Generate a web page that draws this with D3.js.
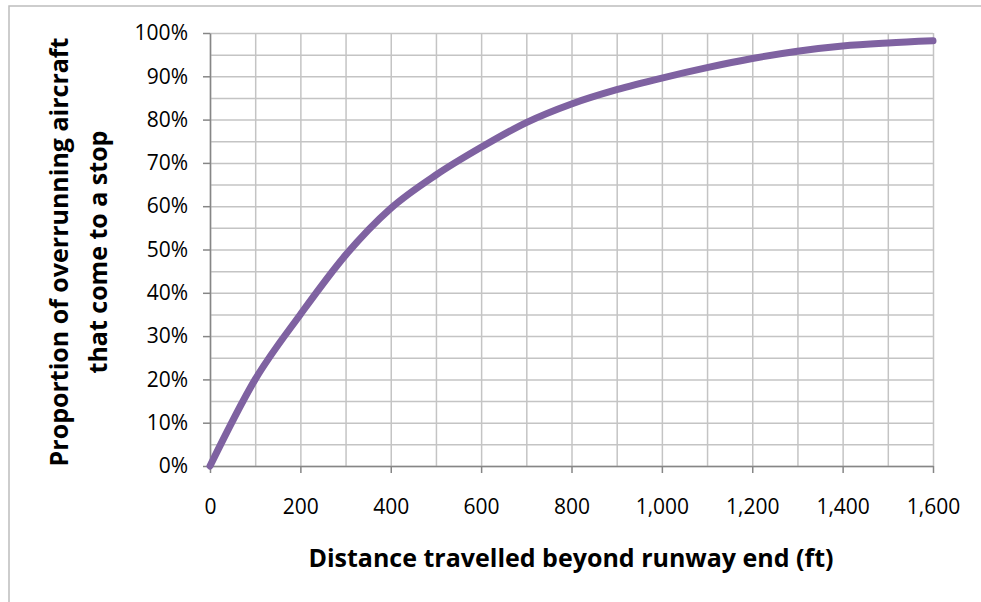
<!DOCTYPE html>
<html>
<head>
<meta charset="utf-8">
<script src="https://cdn.jsdelivr.net/npm/d3@7"></script>
<style>
  body { margin: 0; background: #fff; }
  text { font-family: "Open Sans", Lato, sans-serif; fill: #000; }
</style>
</head>
<body>
<div id="my_dataviz"></div>
<script>
// distance beyond runway end (ft) and share of overruns stopped within it
const distances = [0, 100, 200, 300, 400, 500, 600, 700, 800, 900, 1000, 1100, 1200, 1300, 1400, 1500, 1600];
const proportions = [0, 0.20, 0.35, 0.487, 0.595, 0.672, 0.736, 0.793, 0.836, 0.869, 0.896, 0.920, 0.941, 0.958, 0.970, 0.977, 0.982];
const xTicks = [0, 200, 400, 600, 800, 1000, 1200, 1400, 1600];
const yTicks = [0, 0.1, 0.2, 0.3, 0.4, 0.5, 0.6, 0.7, 0.8, 0.9, 1];
const xTitle = "Distance travelled beyond runway end (ft)";
const yTitle = ["Proportion of overrunning aircraft", "that come to a stop"];

const W = 981, H = 602;
const margin = {top: 33, right: 48, bottom: 136, left: 210},
  width = W - margin.left - margin.right,
  height = H - margin.top - margin.bottom;

const root = d3.select("#my_dataviz")
  .append("svg")
    .attr("width", W)
    .attr("height", H);

// outer chart frame
root.append("rect")
  .attr("x", 9).attr("y", 6)
  .attr("width", W + 20).attr("height", H + 20)
  .attr("fill", "none")
  .attr("stroke", "#bdbdbd")
  .attr("stroke-width", 1.5);

const svg = root.append("g")
  .attr("transform", "translate(" + margin.left + "," + margin.top + ")");

const x = d3.scaleLinear().domain([0, 1600]).range([0, width]);
const y = d3.scaleLinear().domain([0, 1]).range([height, 0]);

// gridlines
svg.append("g")
  .attr("class", "grid")
  .call(d3.axisLeft(y).ticks(20).tickSize(-width).tickFormat(""))
  .call(g => g.select(".domain").remove());
svg.append("g")
  .attr("class", "grid")
  .attr("transform", "translate(0," + height + ")")
  .call(d3.axisBottom(x).ticks(16).tickSize(-height).tickFormat(""))
  .call(g => g.select(".domain").remove());
svg.selectAll(".grid line")
  .attr("stroke", "#c4c4c4")
  .attr("stroke-width", 1.5);

// axes
const yAxis = svg.append("g")
  .call(d3.axisLeft(y).tickValues(yTicks).tickFormat(d3.format(".0%")).tickSize(7).tickSizeOuter(0).tickPadding(15));
const xAxis = svg.append("g")
  .attr("transform", "translate(0," + height + ")")
  .call(d3.axisBottom(x).tickValues(xTicks).tickFormat(d3.format(",")).tickSize(7).tickSizeOuter(0).tickPadding(26));
[yAxis, xAxis].forEach(a => {
  a.selectAll("line, .domain").attr("stroke", "#868686").attr("stroke-width", 1.5);
  a.selectAll("text").style("font-size", "21px").attr("fill", "#000");
});

// curve
const line = d3.line()
  .x((d, i) => x(distances[i]))
  .y(d => y(d))
  .curve(d3.curveMonotoneX);
svg.append("path")
  .datum(proportions)
  .attr("fill", "none")
  .attr("stroke", "#7f62a1")
  .attr("stroke-width", 7)
  .attr("stroke-linecap", "round")
  .attr("d", line);

// axis titles
root.append("text")
  .attr("x", 571).attr("y", 567)
  .attr("text-anchor", "middle")
  .style("font-size", "25px")
  .style("font-weight", "bold")
  .text(xTitle);

root.selectAll(".ytitle")
  .data(yTitle)
  .enter()
  .append("text")
    .attr("transform", (d, i) => "translate(" + (68 + i * 39) + ",252) rotate(-90)")
    .attr("text-anchor", "middle")
    .style("font-size", "25px")
    .style("font-weight", "bold")
    .text(d => d);
</script>
</body>
</html>
